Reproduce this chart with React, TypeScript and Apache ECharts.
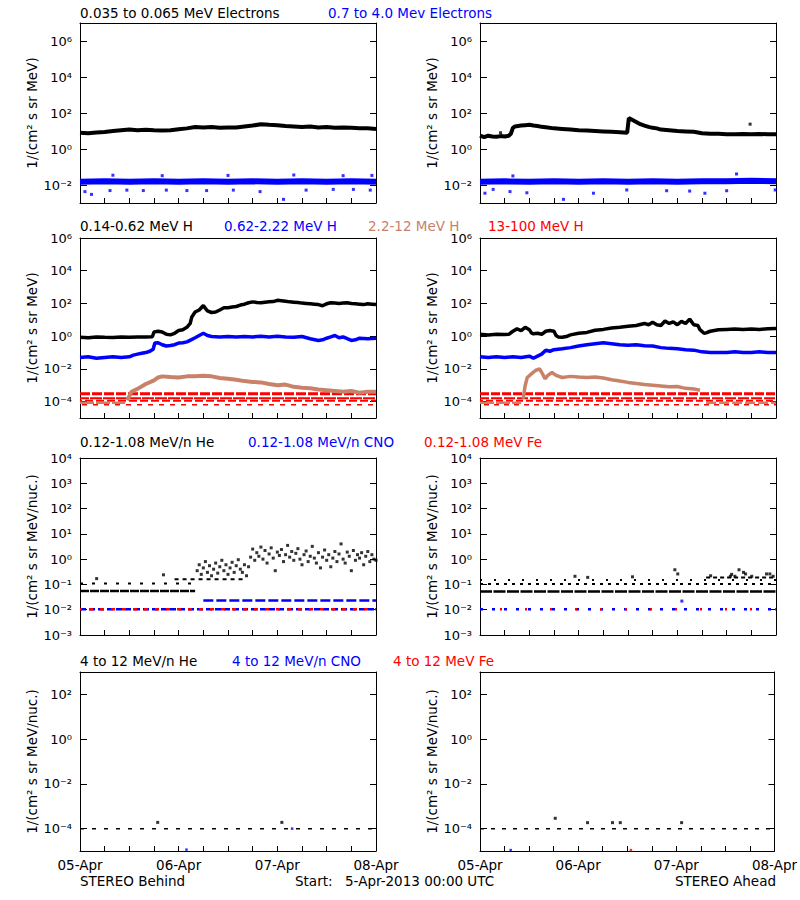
import React, { useEffect, useRef } from 'react';
import * as echarts from 'echarts';

// ---------- DATA (hours since 5-Apr-2013 00:00 UTC, flux) ----------
const xTickLabels: Record<number, string> = { 0: '05-Apr', 24: '06-Apr', 48: '07-Apr', 72: '08-Apr' };

// Row 1: electrons
const behElecLow = [[0,8],[2,7.6],[4,8.3],[6,8.9],[8,10],[10,11],[12,12],[14,11],[16,11.7],[18,11],[20,10.5],[22,11],[24,12.6],[26,14],[28,16.6],[30,15.8],[32,16.6],[34,15],[36,15.8],[38,15.8],[40,17.8],[42,20],[44,24],[46,22.4],[48,21],[50,19],[52,17.8],[54,16.6],[56,17.8],[58,15.8],[60,16.6],[62,15],[64,15.8],[66,15],[68,14],[70,14],[72,13]];
const behElecHigh = [[0,0.015],[6,0.016],[12,0.015],[18,0.016],[24,0.015],[30,0.016],[36,0.015],[42,0.016],[48,0.015],[54,0.016],[60,0.015],[66,0.016],[72,0.015]];
const behElecHighOut = [[1.2,0.0043],[2.8,0.003],[7.3,0.0049],[11.4,0.0052],[15.4,0.0049],[21,0.0052],[26,0.0049],[30.8,0.0049],[37.3,0.0052],[43.8,0.0043],[49.5,0.0016],[55,0.0052],[61.6,0.0057],[66.5,0.0057],[70.6,0.0052],[8,0.035],[20,0.033],[36,0.034],[52,0.036],[64,0.033],[71,0.034]];
const ahdElecLow = [[0,5.5],[1,4.5],[2,5.5],[3,5],[4,4.8],[5,5.2],[6,5],[7,5.5],[7.5,7],[8,15],[8.5,18],[10,20],[11,21],[12,22],[13,20],[14,19],[15,17],[16,16],[18,14],[20,13],[22,12],[24,11],[26,10.5],[28,10],[30,9.5],[32,9],[34,8.5],[35.8,8],[36.2,52],[37,42],[38,32],[39,24],[40,20],[41,17],[42,15],[43,14],[44,12],[46,11],[48,10],[50,9.5],[52,9],[54,7.5],[56,7],[58,7],[60,6.5],[62,6.5],[64,6.8],[66,6.5],[68,6.8],[70,6.5],[72,6.5]];
const ahdElecLowOut = [[65.7,24],[5,8]];
const ahdElecHigh = [[0,0.015],[6,0.016],[12,0.015],[18,0.016],[24,0.015],[30,0.016],[36,0.015],[42,0.016],[48,0.015],[54,0.016],[60,0.016],[66,0.017],[72,0.016]];
const ahdElecHighOut = [[1.2,0.0035],[3.2,0.0057],[7.3,0.0043],[11.4,0.0037],[20.3,0.0016],[27.6,0.0035],[35.7,0.0053],[45.4,0.0048],[51,0.0046],[54.7,0.0035],[60,0.0048],[71.8,0.0053],[62.4,0.041],[8,0.032]];

// Row 2: protons
const behH1 = [[0,0.85],[2,0.8],[4,0.9],[6,0.85],[8,0.82],[10,0.88],[12,0.85],[14,0.9],[16,0.88],[17.6,0.92],[18,1.8],[19,2.0],[20,1.8],[21,1.3],[22,1.2],[23,1.5],[24,2.2],[25,2.5],[26,3.5],[26.8,6],[27.2,15],[28,30],[29,40],[30,75],[30.5,50],[31,35],[32,28],[33,30],[34,40],[35,55],[36,55],[37,60],[38,65],[39,80],[40,90],[41,110],[42,125],[43,115],[44,110],[45,120],[46,125],[47,130],[48,155],[49,145],[50,135],[51,125],[52,120],[53,115],[54,105],[55,100],[56,95],[57,90],[58,85],[59,72],[60,95],[61,110],[62,105],[63,100],[64,105],[65,110],[66,100],[67,95],[68,90],[69,85],[70,95],[71,90],[72,85]];
const behH2 = [[0,0.05],[2,0.055],[4,0.045],[6,0.05],[8,0.055],[10,0.05],[12,0.055],[13,0.07],[14,0.08],[15,0.09],[16,0.1],[17,0.12],[17.8,0.16],[18.2,0.38],[19,0.4],[20,0.3],[21,0.25],[22,0.27],[23,0.3],[24,0.38],[25,0.4],[26,0.45],[27,0.6],[28,0.8],[29,1.1],[30,1.5],[31,1.1],[32,0.95],[34,0.9],[36,0.95],[38,0.9],[40,0.95],[42,0.9],[44,1.0],[46,0.9],[48,1.0],[50,0.9],[52,0.85],[54,0.95],[56,0.7],[58,0.55],[59,0.6],[60,0.75],[61,0.9],[62,1.1],[63,0.8],[64,0.9],[65,0.7],[66,0.55],[67,0.6],[68,0.75],[70,0.7],[72,0.75]];
const behH3 = [[11.5,1.2e-4],[12.5,4e-4],[14,6e-4],[16,1.2e-3],[18,2e-3],[19,3e-3],[20,3.5e-3],[22,3.2e-3],[24,3e-3],[26,3.5e-3],[28,3.6e-3],[30,3.8e-3],[32,3.5e-3],[34,2.8e-3],[36,2.5e-3],[38,2.2e-3],[40,1.8e-3],[42,1.6e-3],[44,1.5e-3],[46,1.2e-3],[48,1.0e-3],[50,1.1e-3],[52,8e-4],[54,7e-4],[56,6.5e-4],[58,5.5e-4],[60,5e-4],[62,4.5e-4],[64,4e-4],[66,4.5e-4],[68,3.5e-4],[70,4e-4],[72,4e-4]];
const behH3Low = [[0,8.5e-5],[11,8.5e-5]];
const ahdH1 = [[0,1.3],[2,1.2],[4,1.3],[6,1.25],[7,1.3],[8,2.0],[9,2.8],[10,2.2],[11,3.5],[12,2.5],[12.5,1.6],[13,1.4],[14,1.5],[15,1.3],[16,2.0],[17,2.2],[18,2.0],[18.5,1.1],[19,0.9],[20,0.85],[21,0.95],[22,1.2],[24,1.5],[26,1.7],[28,2.3],[30,2.6],[32,3.2],[34,3.5],[36,4.0],[38,4.5],[40,6],[41,5],[42,7],[43,5],[44,4.5],[45,8.5],[46,6],[47,7.5],[48,5],[49,8],[50,6],[51,11],[52,5],[53,4.5],[53.5,2.5],[54.5,1.5],[55,1.6],[56,2],[58,2.5],[60,2.6],[62,2.7],[64,2.6],[66,2.7],[68,2.6],[70,2.8],[72,2.9]];
const ahdH2 = [[0,0.055],[2,0.05],[4,0.055],[6,0.05],[8,0.055],[10,0.05],[12,0.06],[13,0.045],[14,0.06],[15,0.08],[16,0.14],[17,0.12],[18,0.15],[20,0.17],[22,0.2],[24,0.25],[26,0.3],[28,0.35],[30,0.4],[32,0.35],[34,0.3],[36,0.28],[38,0.3],[40,0.26],[42,0.25],[44,0.2],[46,0.18],[48,0.17],[50,0.15],[52,0.14],[54,0.11],[56,0.1],[58,0.1],[60,0.1],[62,0.11],[64,0.1],[66,0.1],[68,0.11],[70,0.1],[72,0.1]];
const ahdH3 = [[10.5,1.5e-4],[11,1e-3],[11.5,3e-3],[12.5,5e-3],[13.5,8e-3],[14.5,1e-2],[15.2,5e-3],[15.8,2.5e-3],[16.5,4e-3],[17.5,6e-3],[18.5,4e-3],[20,3e-3],[22,3.5e-3],[24,3.2e-3],[26,3e-3],[28,3.2e-3],[30,2.8e-3],[32,2.2e-3],[34,1.8e-3],[36,1.5e-3],[38,1.3e-3],[40,1.1e-3],[42,1e-3],[44,9e-4],[46,8e-4],[48,8.5e-4],[50,6.5e-4],[52,6e-4],[53.5,5e-4]];
const ahdH3Low1 = [[0,8.5e-5],[10,8.5e-5]];
const ahdH3Low2 = [[55,8.5e-5],[72,8.5e-5]];
const h4Levels = [3e-4, 1.6e-4, 1.15e-4, 6.5e-5];

// Row 3: low-energy heavy ions
const behHeBase = [[0,0.055],[28,0.055]];
const behHeRow2 = [[0,0.11],[28,0.11]];
const behHeRow3 = [[23,0.16],[40,0.16]];
const behHeCloud = [[4.05,0.17],[20.3,0.24],[28.5,0.35],[29,0.6],[29.5,0.25],[30,0.45],[30.5,0.8],[31,0.3],[31.5,0.55],[32,0.22],[32.5,0.4],[33,0.7],[33.5,0.28],[34,0.5],[34.5,0.9],[35,0.35],[35.5,0.6],[36,0.25],[36.5,0.45],[37,0.75],[37.5,0.3],[38,0.55],[38.5,0.95],[39,0.4],[39.5,0.3],[40,0.6],[40.5,0.22],[41,0.5],[41.5,1.2],[42,2.5],[42.5,0.9],[43,1.8],[43.5,1.3],[44,3.0],[44.5,1.0],[45,2.2],[45.5,0.7],[46,1.6],[46.5,2.8],[47,1.1],[47.5,0.35],[48,1.9],[48.5,1.4],[49,2.4],[49.5,0.8],[50,1.5],[50.5,3.5],[51,1.2],[51.5,2.0],[52,0.9],[52.5,1.7],[53,2.6],[53.5,1.0],[54,0.6],[54.5,1.5],[55,2.1],[55.5,0.8],[56,1.3],[56.5,3.2],[57,1.1],[57.5,0.7],[58,1.8],[58.5,0.45],[59,1.2],[59.5,2.3],[60,0.9],[60.5,1.5],[61,0.5],[61.5,1.1],[62,2.0],[62.5,0.8],[63,1.6],[63.5,4.0],[64,1.0],[64.5,0.7],[65,1.9],[65.5,1.3],[66,0.35],[66.5,2.2],[67,0.9],[67.5,1.5],[68,1.1],[68.5,1.8],[69,0.6],[69.5,1.3],[70,2.0],[70.5,0.8],[71,1.5],[71.5,1.0],[72,0.9]];
const behCnoLow = [[0,0.0105],[72,0.0105]];
const behCnoHigh = [[30,0.023],[72,0.023]];
const ahdHeBase = [[0,0.052],[72,0.052]];
const ahdHeRow2 = [[0,0.105],[72,0.105]];
const ahdHeRow3 = [[0,0.15],[72,0.15]];
const ahdHeRow4 = [[55,0.19],[72,0.19]];
const ahdHePts = [[23.1,0.21],[26.2,0.19],[37.1,0.2],[47.4,0.38],[48.1,0.26],[56.1,0.22],[60.9,0.21],[61.2,0.25],[62,0.21],[63,0.38],[64.1,0.3],[64.6,0.26],[66.1,0.21],[69.7,0.26],[70.5,0.26],[71.3,0.21]];
const ahdCnoLow = [[0,0.0105],[72,0.0105]];
const ahdCnoPts = [[49.1,0.022]];

// Row 4: high-energy heavy ions
const behHe4 = [[0,1e-4],[72,1e-4]];
const behHe4Pts = [[18.9,1.9e-4],[49.1,1.9e-4]];
const behCno4Pts = [[25.9,1.15e-5],[51.6,1e-4]];
const ahdHe4 = [[0,1e-4],[72,1e-4]];
const ahdHe4Pts = [[18.4,2.9e-4],[26.3,1.85e-4],[32.4,1.85e-4],[34.3,1.85e-4],[49.3,1.85e-4]];
const ahdCno4Pts = [[7.5,1.1e-5]];
const ahdFe4Pts = [[36.9,1.1e-5]];

// y-axis ranges and tick values per row
const yRanges = [[1e-3, 1e7], [1e-5, 1e6], [1e-3, 1e4], [1e-5, 1e3]];
const yTicks = [[1e-2, 1, 1e2, 1e4, 1e6], [1e-4, 1e-2, 1, 1e2, 1e4, 1e6], [1e-3, 1e-2, 1e-1, 1, 1e1, 1e2, 1e3, 1e4], [1e-4, 1e-2, 1, 1e2]];
const yNames = ['1/(cm² s sr MeV)', '1/(cm² s sr MeV)', '1/(cm² s sr MeV/nuc.)', '1/(cm² s sr MeV/nuc.)'];

// ---------- STYLE ----------
const BLACK = '#000000';
const BLUE = '#0000ff';
const BROWN = '#c8826a';
const RED = '#ff0000';
const FONT = '"DejaVu Sans", sans-serif';
const FS = 13.5;

const GRID_POS = [
  { left: 80, top: 23, height: 180 }, { left: 480, top: 23, height: 180 },
  { left: 80, top: 238, height: 180 }, { left: 480, top: 238, height: 180 },
  { left: 80, top: 458, height: 177 }, { left: 480, top: 458, height: 177 },
  { left: 80, top: 672, height: 179 }, { left: 480, top: 672, height: 179 },
];

const SUP: Record<string, string> = { '-': '⁻', '0': '⁰', '1': '¹', '2': '²', '3': '³', '4': '⁴', '5': '⁵', '6': '⁶', '7': '⁷', '8': '⁸', '9': '⁹' };
function powLabel(v: number) {
  const e = Math.round(Math.log10(v));
  return '10' + String(e).split('').map((c) => SUP[c] || c).join('');
}

function line(gi: number, data: any, color: string, width: number, dash?: any, offset = 0, z = 2) {
  return {
    type: 'line', xAxisIndex: gi, yAxisIndex: gi, data, showSymbol: false, symbol: 'none',
    silent: true, z, clip: true,
    lineStyle: { color, width, type: dash || 'solid', dashOffset: offset, cap: 'butt' },
  };
}
function dots(gi: number, data: any, color: string, size = 3, z = 3) {
  return {
    type: 'scatter', xAxisIndex: gi, yAxisIndex: gi, data, symbol: 'rect', symbolSize: size,
    silent: true, z, itemStyle: { color },
  };
}

function text(x: number, y: number, s: string, color: string, align = 'left') {
  return {
    type: 'text', x, y, silent: true,
    style: { text: s, fill: color, font: `${FS}px ${FONT}`, lineHeight: 10, textAlign: align, textVerticalAlign: 'middle', align, verticalAlign: 'middle' },
  };
}

export default function App() {
  const ref = useRef<HTMLDivElement>(null);
  useEffect(() => {
    if (!ref.current) return;
    const chart = echarts.init(ref.current, undefined, { renderer: 'svg' });

    const grid = GRID_POS.map((g) => ({ left: g.left, top: g.top, width: 296, height: g.height, show: false }));
    const xAxis = GRID_POS.map((_, i) => ({
      type: 'value', gridIndex: i, min: 0, max: 72, interval: 6,
      axisLine: { show: true, onZero: false, lineStyle: { color: BLACK, width: 1 } },
      axisTick: { show: true, inside: true, length: 5, lineStyle: { color: BLACK } },
      splitLine: { show: false },
      axisLabel: {
        show: i >= 6, margin: 9, color: BLACK, fontFamily: FONT, fontSize: FS, lineHeight: 10,
        formatter: (v: number) => xTickLabels[v] || '',
      },
    }));
    const xTop = GRID_POS.map((_, i) => ({
      type: 'value', gridIndex: i, min: 0, max: 72, position: 'top',
      axisLine: { show: true, onZero: false, lineStyle: { color: BLACK, width: 1 } },
      axisTick: { show: false }, axisLabel: { show: false }, splitLine: { show: false },
    }));
    const yLeft = GRID_POS.map((_, i) => {
      const r = Math.floor(i / 2);
      return {
        type: 'log', logBase: 10, gridIndex: i, min: yRanges[r][0], max: yRanges[r][1],
        name: yNames[r], nameLocation: 'middle', nameGap: 37,
        nameTextStyle: { color: BLACK, fontFamily: FONT, fontSize: FS },
        axisLine: { show: true, onZero: false, lineStyle: { color: BLACK, width: 1 } },
        axisTick: { show: true, inside: true, length: 7, lineStyle: { color: BLACK }, customValues: yTicks[r] },
        minorTick: { show: false },
        splitLine: { show: false },
        axisLabel: {
          show: true, margin: 8, color: BLACK, fontFamily: FONT, fontSize: 13, lineHeight: 9,
          customValues: yTicks[r], formatter: (v: number) => powLabel(v),
        },
      };
    });
    const yRight = GRID_POS.map((_, i) => {
      const r = Math.floor(i / 2);
      return {
        type: 'log', logBase: 10, gridIndex: i, min: yRanges[r][0], max: yRanges[r][1], position: 'right',
        axisLine: { show: true, onZero: false, lineStyle: { color: BLACK, width: 1 } },
        axisTick: { show: true, inside: true, length: 6, lineStyle: { color: BLACK }, customValues: yTicks[r] },
        splitLine: { show: false },
        axisLabel: { show: false, customValues: yTicks[r] },
      };
    });

    const series: any[] = [
      // row 1
      line(0, behElecLow, BLACK, 4),
      line(0, behElecHigh, BLUE, 6),
      dots(0, behElecHighOut, BLUE, 3),
      line(1, ahdElecLow, BLACK, 4),
      dots(1, ahdElecLowOut, BLACK, 3),
      line(1, ahdElecHigh, BLUE, 6),
      dots(1, ahdElecHighOut, BLUE, 3),
      // row 2 - red bands
      ...h4Levels.map((lv, k) => line(2, [[0, lv], [72, lv]], RED, [3, 2, 2, 1.5][k], [[10, 2], [12, 1], [8, 3], [5, 6]][k], k * 3, 1)),
      ...h4Levels.map((lv, k) => line(3, [[0, lv], [72, lv]], RED, [3, 2, 2, 1.5][k], [[9, 2], [11, 2], [7, 3], [5, 5]][k], k * 2, 1)),
      line(2, behH3Low, BROWN, 2.5, [14, 2]),
      line(2, behH3, BROWN, 4),
      line(2, behH2, BLUE, 3.5),
      line(2, behH1, BLACK, 3.5),
      line(3, ahdH3Low1, BROWN, 2.5, [14, 2]),
      line(3, ahdH3Low2, BROWN, 2.5, [10, 3]),
      line(3, ahdH3, BROWN, 3.5),
      line(3, ahdH2, BLUE, 3.5),
      line(3, ahdH1, BLACK, 3.5),
      // row 3
      line(4, behCnoLow, BLUE, 2.5, [6, 3]),
      line(4, behCnoLow, RED, 2.5, [4, 7], 2),
      line(4, behCnoHigh, BLUE, 2.5, [10, 3]),
      line(4, behHeBase, BLACK, 2.5, [9, 1]),
      line(4, behHeRow2, BLACK, 2, [3, 9]),
      line(4, behHeRow3, BLACK, 2, [4, 4]),
      dots(4, behHeCloud, BLACK, 3),
      line(5, ahdCnoLow, BLUE, 2.5, [3, 9]),
      line(5, ahdCnoLow, RED, 2.5, [2, 23], 5),
      dots(5, ahdCnoPts, BLUE, 3),
      line(5, ahdHeBase, BLACK, 2.5, [12, 1.5]),
      line(5, ahdHeRow2, BLACK, 2, [3, 5]),
      line(5, ahdHeRow3, BLACK, 2, [2, 12]),
      line(5, ahdHeRow4, BLACK, 2, [4, 3]),
      dots(5, ahdHePts, BLACK, 3),
      // row 4
      line(6, behHe4, BLACK, 1.5, [4, 8]),
      dots(6, behHe4Pts, BLACK, 3),
      dots(6, behCno4Pts, BLUE, 2.5),
      line(7, ahdHe4, BLACK, 1.5, [4, 7]),
      dots(7, ahdHe4Pts, BLACK, 3),
      dots(7, ahdCno4Pts, BLUE, 2.5),
      dots(7, ahdFe4Pts, RED, 2.5),
    ];

    const graphic = [
      text(80, 13, '0.035 to 0.065 MeV Electrons', BLACK),
      text(328, 13, '0.7 to 4.0 Mev Electrons', BLUE),
      text(80, 226, '0.14-0.62 MeV H', BLACK),
      text(224, 226, '0.62-2.22 MeV H', BLUE),
      text(368, 226, '2.2-12 MeV H', BROWN),
      text(488, 226, '13-100 MeV H', RED),
      text(80, 442, '0.12-1.08 MeV/n He', BLACK),
      text(248, 442, '0.12-1.08 MeV/n CNO', BLUE),
      text(424, 442, '0.12-1.08 MeV Fe', RED),
      text(80, 661, '4 to 12 MeV/n He', BLACK),
      text(232, 661, '4 to 12 MeV/n CNO', BLUE),
      text(393, 661, '4 to 12 MeV Fe', RED),
      text(80, 881, 'STEREO Behind', BLACK),
      text(295, 881, 'Start:', BLACK),
      text(345, 881, '5-Apr-2013 00:00 UTC', BLACK),
      text(776, 881, 'STEREO Ahead', BLACK, 'right'),
    ];

    chart.setOption({
      animation: false,
      backgroundColor: '#ffffff',
      grid,
      xAxis: [...xAxis, ...xTop],
      yAxis: [...yLeft, ...yRight],
      series,
      graphic,
    });
    return () => chart.dispose();
  }, []);

  return <div ref={ref} style={{ position: 'fixed', left: 0, top: 0, width: 800, height: 900, background: '#fff' }} />;
}
